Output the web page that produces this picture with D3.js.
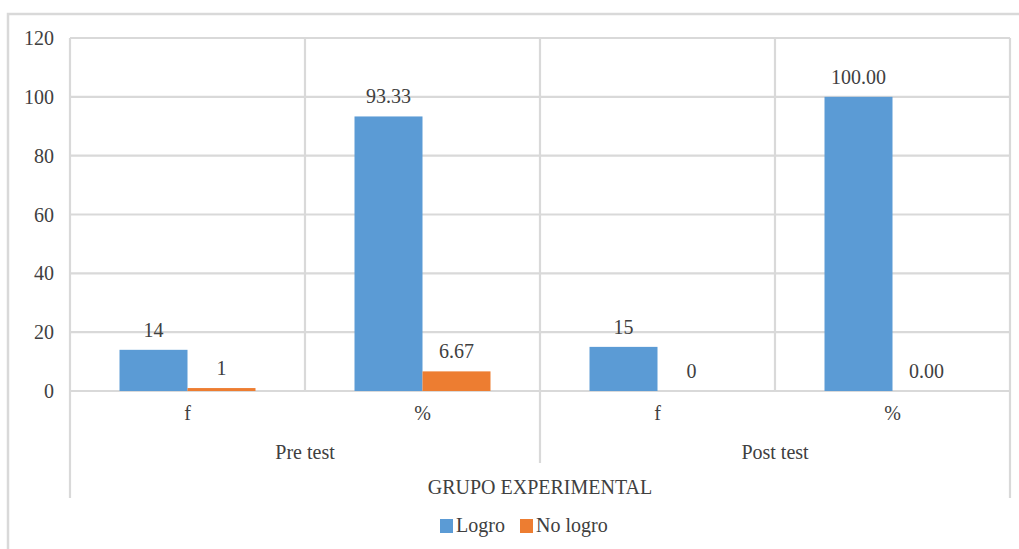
<!DOCTYPE html>
<html>
<head>
<meta charset="utf-8">
<script src="https://cdn.jsdelivr.net/npm/d3@7"></script>
<style>
  html, body { margin: 0; padding: 0; background: #fff; }
  svg { display: block; }
</style>
</head>
<body>
<script>
// ---- data ----
const categories = ["f", "%", "f", "%"];
const groups = ["Pre test", "Post test"];
const groupOfCategory = [0, 0, 1, 1];
const seriesNames = ["Logro", "No logro"];
const logro = [14, 93.33, 15, 100];
const noLogro = [1, 6.67, 0, 0];
const logroLabels = ["14", "93.33", "15", "100.00"];
const noLogroLabels = ["1", "6.67", "0", "0.00"];
const yTicks = [0, 20, 40, 60, 80, 100, 120];
const axisTitle = "GRUPO EXPERIMENTAL";
const colors = ["#5b9bd5", "#ed7d31"];

// ---- layout ----
const W = 1019, H = 549;
const plot = { left: 70, right: 1010, top: 38, bottom: 391 };
const grid = "#d9d9d9";
const FONT = "'Liberation Serif', 'Times New Roman', 'DejaVu Serif', serif";
const FS = 20;
const TXT = "#404040";

const svg = d3.select("body").append("svg").attr("width", W).attr("height", H)
  .attr("font-family", FONT).attr("fill", TXT);

// outer chart border
svg.append("rect")
  .attr("x", 8).attr("y", 14).attr("width", 1040).attr("height", 560)
  .attr("fill", "none").attr("stroke", grid).attr("stroke-width", 2.5);

const y = d3.scaleLinear().domain([0, 120]).range([plot.bottom, plot.top]);
const x0 = d3.scaleBand().domain(d3.range(categories.length)).range([plot.left, plot.right]).padding(0);
const x1 = d3.scaleBand().domain(seriesNames).range([0, x0.bandwidth()]).paddingInner(0).paddingOuter(0.728);

// horizontal gridlines
svg.append("g").selectAll("line").data(yTicks).join("line")
  .attr("x1", plot.left).attr("x2", plot.right)
  .attr("y1", d => y(d)).attr("y2", d => y(d))
  .attr("stroke", grid).attr("stroke-width", 2.2);

// y tick labels
svg.append("g").selectAll("text").data(yTicks).join("text")
  .attr("x", 54).attr("y", d => y(d)).attr("dy", "0.35em")
  .attr("text-anchor", "end").attr("font-size", FS)
  .text(d => d);

// vertical lines: category boundaries
const bounds = d3.range(categories.length + 1).map(i => i < categories.length ? x0(i) : x0(i - 1) + x0.bandwidth());
svg.append("g").selectAll("line").data(bounds).join("line")
  .attr("x1", d => d).attr("x2", d => d)
  .attr("y1", plot.top)
  .attr("y2", (d, i) => {
    if (i === 0 || i === categories.length) return 498;
    if (groupOfCategory[i] !== groupOfCategory[i - 1]) return 463;
    return plot.bottom;
  })
  .attr("stroke", grid).attr("stroke-width", 2.2);

// bars
const seriesVals = [logro, noLogro];
const seriesLabels = [logroLabels, noLogroLabels];
seriesNames.forEach((s, si) => {
  const g = svg.append("g");
  g.selectAll("rect").data(seriesVals[si]).join("rect")
    .attr("x", (d, i) => x0(i) + x1(s))
    .attr("width", x1.bandwidth())
    .attr("y", d => y(d))
    .attr("height", d => y(0) - y(d))
    .attr("fill", colors[si]);
  g.selectAll("text").data(seriesVals[si]).join("text")
    .attr("x", (d, i) => x0(i) + x1(s) + x1.bandwidth() / 2)
    .attr("y", d => y(d) - 13)
    .attr("text-anchor", "middle").attr("font-size", FS)
    .text((d, i) => seriesLabels[si][i]);
});

// category labels
svg.append("g").selectAll("text").data(categories).join("text")
  .attr("x", (d, i) => x0(i) + x0.bandwidth() / 2)
  .attr("y", 420)
  .attr("text-anchor", "middle").attr("font-size", FS)
  .text(d => d);

// group labels
svg.append("g").selectAll("text").data(groups).join("text")
  .attr("x", (d, gi) => {
    const idx = d3.range(categories.length).filter(i => groupOfCategory[i] === gi);
    return (x0(idx[0]) + x0(idx[idx.length - 1]) + x0.bandwidth()) / 2;
  })
  .attr("y", 459)
  .attr("text-anchor", "middle").attr("font-size", FS)
  .text(d => d);

// axis title
svg.append("text")
  .attr("x", (plot.left + plot.right) / 2).attr("y", 494)
  .attr("text-anchor", "middle").attr("font-size", FS)
  .text(axisTitle);

// legend
const legendX = [440, 520];
const lg = svg.append("g");
seriesNames.forEach((s, si) => {
  lg.append("rect").attr("x", legendX[si]).attr("y", 519).attr("width", 13).attr("height", 14).attr("fill", colors[si]);
  lg.append("text").attr("x", legendX[si] + 16).attr("y", 532).attr("font-size", FS).text(s);
});
</script>
</body>
</html>
